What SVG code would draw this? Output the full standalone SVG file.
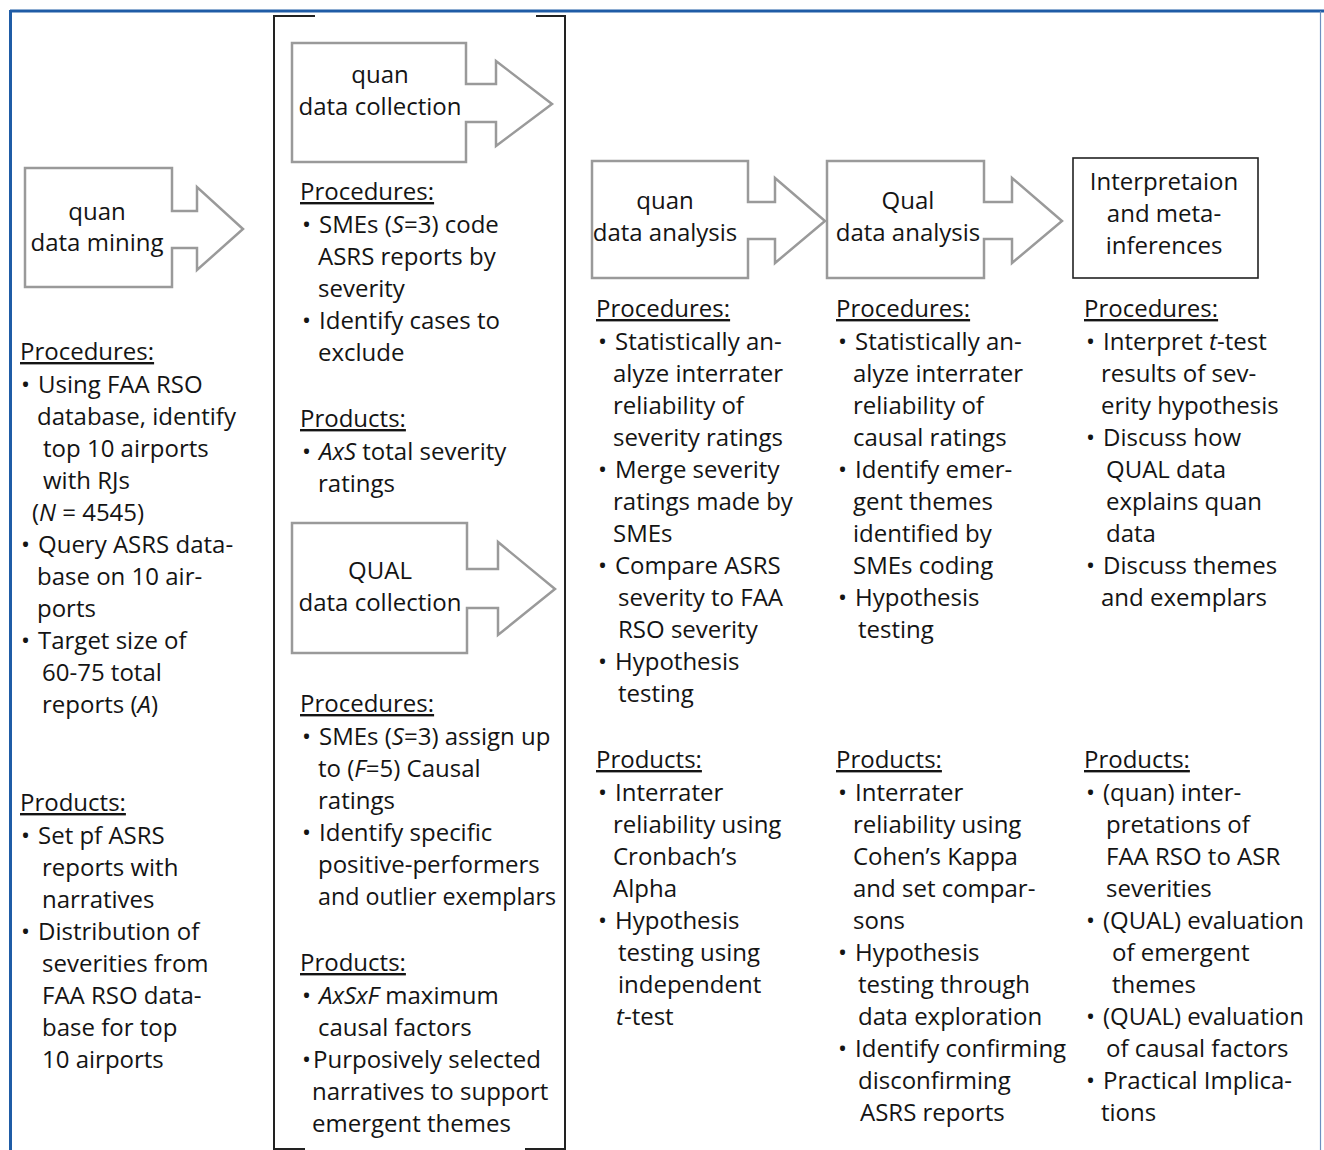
<svg xmlns="http://www.w3.org/2000/svg" width="1324" height="1150" viewBox="0 0 1324 1150">
<style>
.t{font-family:"Open Sans","Liberation Sans",sans-serif;font-size:24px;fill:#141414}
.c{text-anchor:middle}
.h{text-decoration:underline}
.i{font-style:italic}
.arrow{fill:#fff;stroke:#9a9a9a;stroke-width:2.5}
.box{fill:#fff;stroke:#222;stroke-width:1.6}
.br{fill:none;stroke:#222;stroke-width:2}
</style>
<rect width="1324" height="1150" fill="#fff"/>
<g id="frame">
<line x1="10" y1="11" x2="1324" y2="11" stroke="#1f5ca6" stroke-width="3"/>
<line x1="10.5" y1="10" x2="10.5" y2="1150" stroke="#1f5ca6" stroke-width="3"/>
<line x1="1320.5" y1="11" x2="1320.5" y2="1150" stroke="#6d8fc0" stroke-width="1.2"/>
</g>
<g id="bracket">
<polyline class="br" points="315,16 274,16 274,1149 305,1149"/>
<polyline class="br" points="536,16 565,16 565,1149 525,1149"/>
</g>

<g id="node-data-mining">
<polygon class="arrow" points="25,168 172,168 172,211 197,211 197,187 243,229 197,270 197,248 172,248 172,287 25,287"/>
<text class="t c"><tspan x="97" y="220">quan</tspan><tspan x="97" y="251">data mining</tspan></text>
</g>
<g id="node-quan-collection">
<polygon class="arrow" points="292,43 466,43 466,84 496,84 496,61 552,104 496,146 496,122 466,122 466,162 292,162"/>
<text class="t c"><tspan x="380" y="83">quan</tspan><tspan x="380" y="115">data collection</tspan></text>
</g>
<g id="node-qual-collection">
<polygon class="arrow" points="292,523 467,523 467,569 498,569 498,542 555,589 498,635 498,608 467,608 467,653 292,653"/>
<text class="t c"><tspan x="380" y="579">QUAL</tspan><tspan x="380" y="611">data collection</tspan></text>
</g>
<g id="node-quan-analysis">
<polygon class="arrow" points="592,161 748,161 748,202 775,202 775,178 825,221 775,263 775,239 748,239 748,278 592,278"/>
<text class="t c"><tspan x="665" y="209">quan</tspan><tspan x="665" y="241">data analysis</tspan></text>
</g>
<g id="node-qual-analysis">
<polygon class="arrow" points="827,161 984,161 984,202 1012,202 1012,178 1062,221 1012,263 1012,239 984,239 984,278 827,278"/>
<text class="t c"><tspan x="908" y="209">Qual</tspan><tspan x="908" y="241">data analysis</tspan></text>
</g>
<g id="node-interpretation">
<rect class="box" x="1073" y="158" width="185" height="120"/>
<text class="t c"><tspan x="1164" y="190">Interpretaion</tspan><tspan x="1164" y="222">and meta-</tspan><tspan x="1164" y="254">inferences</tspan></text>
</g>

<g id="text-col1">
<text class="t h" x="20" y="360">Procedures:</text>
<text class="t"><tspan x="21" y="393">•</tspan><tspan x="21" y="553">•</tspan><tspan x="21" y="649">•</tspan></text>
<text class="t"><tspan x="38" y="393">Using FAA RSO</tspan><tspan x="37" y="425">database, identify</tspan><tspan x="43" y="457">top 10 airports</tspan><tspan x="43" y="489">with RJs</tspan><tspan x="32" y="521">(<tspan class="i">N</tspan> = 4545)</tspan><tspan x="38" y="553">Query ASRS data-</tspan><tspan x="37" y="585">base on 10 air-</tspan><tspan x="37" y="617">ports</tspan><tspan x="38" y="649">Target size of</tspan><tspan x="42" y="681">60-75 total</tspan><tspan x="42" y="713">reports (<tspan class="i">A</tspan>)</tspan></text>
<text class="t h" x="20" y="811">Products:</text>
<text class="t"><tspan x="21" y="844">•</tspan><tspan x="21" y="940">•</tspan></text>
<text class="t"><tspan x="38" y="844">Set pf ASRS</tspan><tspan x="42" y="876">reports with</tspan><tspan x="42" y="908">narratives</tspan><tspan x="38" y="940">Distribution of</tspan><tspan x="42" y="972">severities from</tspan><tspan x="42" y="1004">FAA RSO data-</tspan><tspan x="42" y="1036">base for top</tspan><tspan x="42" y="1068">10 airports</tspan></text>
</g>

<g id="text-col2">
<text class="t h" x="300" y="200">Procedures:</text>
<text class="t"><tspan x="302" y="233">•</tspan><tspan x="302" y="329">•</tspan></text>
<text class="t"><tspan x="319" y="233">SMEs (<tspan class="i">S</tspan>=3) code</tspan><tspan x="318" y="265">ASRS reports by</tspan><tspan x="318" y="297">severity</tspan><tspan x="319" y="329">Identify cases to</tspan><tspan x="318" y="361">exclude</tspan></text>
<text class="t h" x="300" y="427">Products:</text>
<text class="t"><tspan x="302" y="460">•</tspan></text>
<text class="t"><tspan x="319" y="460"><tspan class="i">AxS</tspan> total severity</tspan><tspan x="318" y="492">ratings</tspan></text>
<text class="t h" x="300" y="712">Procedures:</text>
<text class="t"><tspan x="302" y="745">•</tspan><tspan x="302" y="841">•</tspan></text>
<text class="t"><tspan x="319" y="745">SMEs (<tspan class="i">S</tspan>=3) assign up</tspan><tspan x="318" y="777">to (<tspan class="i">F</tspan>=5) Causal</tspan><tspan x="318" y="809">ratings</tspan><tspan x="319" y="841">Identify specific</tspan><tspan x="318" y="873">positive-performers</tspan></text>
<text class="t" x="318" y="905" textLength="238" lengthAdjust="spacingAndGlyphs">and outlier exemplars</text>
<text class="t h" x="300" y="971">Products:</text>
<text class="t"><tspan x="302" y="1004">•</tspan><tspan x="302" y="1068">•</tspan></text>
<text class="t"><tspan x="319" y="1004"><tspan class="i">AxSxF</tspan> maximum</tspan><tspan x="318" y="1036">causal factors</tspan><tspan x="313" y="1068">Purposively selected</tspan><tspan x="312" y="1100">narratives to support</tspan><tspan x="312" y="1132">emergent themes</tspan></text>
</g>

<g id="text-col3">
<text class="t h" x="596" y="317">Procedures:</text>
<text class="t"><tspan x="598" y="350">•</tspan><tspan x="598" y="478">•</tspan><tspan x="598" y="574">•</tspan><tspan x="598" y="670">•</tspan></text>
<text class="t"><tspan x="615" y="350">Statistically an-</tspan><tspan x="613" y="382">alyze interrater</tspan><tspan x="613" y="414">reliability of</tspan><tspan x="613" y="446">severity ratings</tspan><tspan x="615" y="478">Merge severity</tspan><tspan x="613" y="510">ratings made by</tspan><tspan x="613" y="542">SMEs</tspan><tspan x="615" y="574">Compare ASRS</tspan><tspan x="618" y="606">severity to FAA</tspan><tspan x="618" y="638">RSO severity</tspan><tspan x="615" y="670">Hypothesis</tspan><tspan x="618" y="702">testing</tspan></text>
<text class="t h" x="596" y="768">Products:</text>
<text class="t"><tspan x="598" y="801">•</tspan><tspan x="598" y="929">•</tspan></text>
<text class="t"><tspan x="615" y="801">Interrater</tspan><tspan x="613" y="833">reliability using</tspan><tspan x="613" y="865">Cronbach’s</tspan><tspan x="613" y="897">Alpha</tspan><tspan x="615" y="929">Hypothesis</tspan><tspan x="618" y="961">testing using</tspan><tspan x="618" y="993">independent</tspan><tspan x="616" y="1025"><tspan class="i">t</tspan>-test</tspan></text>
</g>

<g id="text-col4">
<text class="t h" x="836" y="317">Procedures:</text>
<text class="t"><tspan x="838" y="350">•</tspan><tspan x="838" y="478">•</tspan><tspan x="838" y="606">•</tspan></text>
<text class="t"><tspan x="855" y="350">Statistically an-</tspan><tspan x="853" y="382">alyze interrater</tspan><tspan x="853" y="414">reliability of</tspan><tspan x="853" y="446">causal ratings</tspan><tspan x="855" y="478">Identify emer-</tspan><tspan x="853" y="510">gent themes</tspan><tspan x="853" y="542">identified by</tspan><tspan x="853" y="574">SMEs coding</tspan><tspan x="855" y="606">Hypothesis</tspan><tspan x="858" y="638">testing</tspan></text>
<text class="t h" x="836" y="768">Products:</text>
<text class="t"><tspan x="838" y="801">•</tspan><tspan x="838" y="961">•</tspan><tspan x="838" y="1057">•</tspan></text>
<text class="t"><tspan x="855" y="801">Interrater</tspan><tspan x="853" y="833">reliability using</tspan><tspan x="853" y="865">Cohen’s Kappa</tspan><tspan x="853" y="897">and set compar-</tspan><tspan x="853" y="929">sons</tspan><tspan x="855" y="961">Hypothesis</tspan><tspan x="858" y="993">testing through</tspan><tspan x="858" y="1025">data exploration</tspan><tspan x="855" y="1057">Identify confirming</tspan><tspan x="858" y="1089">disconfirming</tspan><tspan x="860" y="1121">ASRS reports</tspan></text>
</g>

<g id="text-col5">
<text class="t h" x="1084" y="317">Procedures:</text>
<text class="t"><tspan x="1086" y="350">•</tspan><tspan x="1086" y="446">•</tspan><tspan x="1086" y="574">•</tspan></text>
<text class="t"><tspan x="1103" y="350">Interpret <tspan class="i">t</tspan>-test</tspan><tspan x="1101" y="382">results of sev-</tspan><tspan x="1101" y="414">erity hypothesis</tspan><tspan x="1103" y="446">Discuss how</tspan><tspan x="1106" y="478">QUAL data</tspan><tspan x="1106" y="510">explains quan</tspan><tspan x="1106" y="542">data</tspan><tspan x="1103" y="574">Discuss themes</tspan><tspan x="1101" y="606">and exemplars</tspan></text>
<text class="t h" x="1084" y="768">Products:</text>
<text class="t"><tspan x="1086" y="801">•</tspan><tspan x="1086" y="929">•</tspan><tspan x="1086" y="1025">•</tspan><tspan x="1086" y="1089">•</tspan></text>
<text class="t"><tspan x="1103" y="801">(quan) inter-</tspan><tspan x="1106" y="833">pretations of</tspan><tspan x="1106" y="865">FAA RSO to ASR</tspan><tspan x="1106" y="897">severities</tspan><tspan x="1103" y="929">(QUAL) evaluation</tspan><tspan x="1112" y="961">of emergent</tspan><tspan x="1112" y="993">themes</tspan><tspan x="1103" y="1025">(QUAL) evaluation</tspan><tspan x="1106" y="1057">of causal factors</tspan><tspan x="1103" y="1089">Practical Implica-</tspan><tspan x="1101" y="1121">tions</tspan></text>
</g>
</svg>
